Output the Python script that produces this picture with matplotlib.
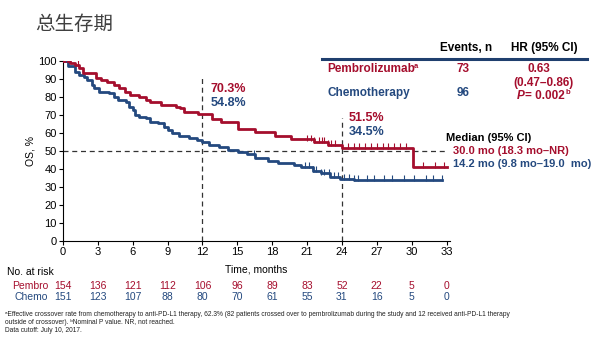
import matplotlib
matplotlib.use('Agg')

import numpy as np
import matplotlib.pyplot as plt
from matplotlib.transforms import blended_transform_factory

plt.rcParams['font.family'] = ['Liberation Sans', 'DejaVu Sans']

RED = '#A50E2D'
BLUE = '#24497F'

# Kaplan-Meier steps (months, OS %)
pembro_t = [0, 0.6, 1.0, 1.4, 1.7, 2.8, 3.3, 3.8, 4.4, 4.8, 5.3, 5.8, 6.5, 7.1, 7.5, 8.4,
            9.7, 10.1, 10.4, 11.6, 12.8, 13.6, 15.1, 16.5, 18.2, 19.6, 21.6, 22.8, 24.0, 30.1]
pembro_s = [100, 98.5, 97.6, 95.8, 93, 90.2, 89.2, 88.2, 86.5, 84.7, 82.8, 81, 80, 78, 77, 75.5,
            74.5, 73.6, 71.7, 70.3, 67.7, 66.2, 62.1, 60.6, 58.4, 56.4, 54.9, 53.2, 51.5, 41.2]
pembro_end = 33.0
pembro_cens = [1.3, 21.0, 21.3, 21.6, 22.0, 22.3, 22.5, 22.8, 23.1, 23.4, 24.5, 25.0, 25.5,
               26.0, 26.5, 27.0, 27.5, 28.0, 28.5, 29.0, 29.5, 31.0, 32.0, 32.8]

chemo_t = [0, 0.4, 1.0, 1.4, 1.8, 2.1, 2.5, 2.7, 3.1, 4.0, 4.4, 4.7, 5.4, 5.7, 6.0, 6.2, 6.5,
           7.1, 7.5, 8.2, 8.7, 9.0, 9.4, 10.0, 10.8, 11.5, 12.0, 12.6, 13.4, 14.2, 15.1, 15.8,
           16.5, 17.6, 18.5, 19.9, 20.5, 21.5, 22.2, 23.0, 23.8, 25.0]
chemo_s = [100, 97, 93.8, 92, 91, 89.2, 86.5, 84.7, 82.8, 82, 80, 78.2, 77.3, 74.5, 72.7, 70,
           69, 68, 66.2, 65.3, 63.5, 61.6, 59.8, 58, 57, 56, 54.8, 53.5, 52.3, 50.2, 49.5, 48,
           46, 44.4, 43.5, 42.2, 41, 39, 37.5, 35.7, 34.5, 33.8]
chemo_end = 32.6
chemo_cens = [0.3, 8.7, 16.4, 20.8, 21.2, 21.5, 21.8, 22.2, 22.5, 22.9, 23.3, 23.7, 24.2, 24.6,
              25.0, 25.4, 26.2, 26.8, 27.6, 28.3, 29.3, 30.2, 31.2, 31.8, 32.6]

xticks = [0, 3, 6, 9, 12, 15, 18, 21, 24, 27, 30, 33]
yticks = [0, 10, 20, 30, 40, 50, 60, 70, 80, 90, 100]
risk_pembro = [154, 136, 121, 112, 106, 96, 89, 83, 52, 22, 5, 0]
risk_chemo = [151, 123, 107, 88, 80, 70, 61, 55, 31, 16, 5, 0]

footnotes = [
    'ᵃEffective crossover rate from chemotherapy to anti-PD-L1 therapy, 62.3% (82 patients '
    'crossed over to pembrolizumab during the study and 12 received anti-PD-L1 therapy',
    'outside of crossover). ᵇNominal P value. NR, not reached.',
    'Data cutoff: July 10, 2017.',
]


def fx(x):
    return x / 600.0


def fy(y):
    return 1 - y / 337.0


def step_val(t, s, x):
    i = np.searchsorted(np.array(t), x, side='right') - 1
    return np.array(s)[i]


fig = plt.figure(figsize=(6, 3.37), dpi=100)
ax = fig.add_axes([fx(63), fy(241), fx(450) - fx(63), fy(60.7) - fy(241)])

# reference lines
ax.plot([0, 33], [50, 50], ls=(0, (4, 3)), color='#333333', lw=0.9, zorder=1)
ax.plot([12, 12], [0, 91], ls=(0, (4, 3)), color='#333333', lw=0.9, zorder=1)
ax.plot([24, 24], [0, 68.4], ls=(0, (4, 3)), color='#333333', lw=0.9, zorder=1)

# curves
for t, s, end, cens, col in [(chemo_t, chemo_s, chemo_end, chemo_cens, BLUE),
                             (pembro_t, pembro_s, pembro_end, pembro_cens, RED)]:
    ax.step(list(t) + [end], list(s) + [s[-1]], where='post', color=col, lw=2.0, zorder=3)
    cy = [step_val(t, s, c) for c in cens]
    ax.plot(cens, np.array(cy) + 1.0, ls='none', marker='|', ms=4, mew=0.8, color=col, zorder=4)

ax.set_xlim(0, 33.3)
ax.set_ylim(0, 100)
ax.set_xticks(xticks)
ax.set_yticks(yticks)
ax.tick_params(labelsize=8, length=3, width=0.8, pad=1.5)
ax.spines['top'].set_visible(False)
ax.spines['right'].set_visible(False)
ax.set_ylabel('OS, %', fontsize=7.5, labelpad=2)
ax.set_xlabel('Time, months', fontsize=7.5, labelpad=5)

# landmark percentages
ax.text(12.7, 84.3, '70.3%', color=RED, fontsize=9, fontweight='bold', ha='left', va='center')
ax.text(12.7, 76.5, '54.8%', color=BLUE, fontsize=9, fontweight='bold', ha='left', va='center')
ax.text(24.6, 68.2, '51.5%', color=RED, fontsize=9, fontweight='bold', ha='left', va='center')
ax.text(24.6, 60.6, '34.5%', color=BLUE, fontsize=9, fontweight='bold', ha='left', va='center')

# title
fig.text(fx(35), fy(25), '总生存期', family=['Noto Sans CJK SC'], fontsize=14,
         color='#404040', ha='left', va='center')

# HR table
fig.text(fx(466), fy(48), 'Events, n', fontsize=8.5, fontweight='bold', ha='center', va='center')
fig.text(fx(544), fy(48), 'HR (95% CI)', fontsize=8.5, fontweight='bold', ha='center', va='center')
fig.lines.append(plt.Line2D([fx(322), fx(587)], [fy(59), fy(59)], color='#1F3F6E', lw=2.2,
                            transform=fig.transFigure))
fig.text(fx(327), fy(69), 'Pembrolizumab', fontsize=8.5, fontweight='bold', color=RED,
         ha='left', va='center')
fig.text(fx(414), fy(66), 'a', fontsize=5.5, fontweight='bold', color=RED, ha='left', va='center')
fig.text(fx(327), fy(93), 'Chemotherapy', fontsize=8.5, fontweight='bold', color=BLUE,
         ha='left', va='center')
fig.text(fx(463), fy(69), '73', fontsize=8.5, fontweight='bold', color=RED, ha='center', va='center')
fig.text(fx(463), fy(93), '96', fontsize=8.5, fontweight='bold', color=BLUE, ha='center', va='center')
fig.text(fx(539), fy(69), '0.63', fontsize=8.5, fontweight='bold', color=RED, ha='center', va='center')
fig.text(fx(544), fy(83), '(0.47–0.86)', fontsize=8.5, fontweight='bold', color=RED,
         ha='center', va='center')
fig.text(fx(517), fy(96), 'P', fontsize=8.5, fontweight='bold', style='italic', color=RED,
         ha='left', va='center')
fig.text(fx(525), fy(96), '= 0.002', fontsize=8.5, fontweight='bold', color=RED, ha='left', va='center')
fig.text(fx(566), fy(92.5), 'b', fontsize=5.5, fontweight='bold', color=RED, ha='left', va='center')

# medians
fig.text(fx(446), fy(138), 'Median (95% CI)', fontsize=8, fontweight='bold', ha='left', va='center')
fig.text(fx(453), fy(151), '30.0 mo (18.3 mo–NR)', fontsize=8, fontweight='bold', color=RED,
         ha='left', va='center')
fig.text(fx(453), fy(164), '14.2 mo (9.8 mo–19.0  mo)', fontsize=8, fontweight='bold', color=BLUE,
         ha='left', va='center')

# number at risk
tr = blended_transform_factory(ax.transData, fig.transFigure)
fig.text(fx(7), fy(272), 'No. at risk', fontsize=7.5, ha='left', va='center')
fig.text(fx(48), fy(286), 'Pembro', fontsize=7.5, color=RED, ha='right', va='center')
fig.text(fx(48), fy(297), 'Chemo', fontsize=7.5, color=BLUE, ha='right', va='center')
for xt, rp, rc in zip(xticks, risk_pembro, risk_chemo):
    ax.text(xt, fy(286), str(rp), transform=tr, fontsize=7.5, color=RED, ha='center', va='center')
    ax.text(xt, fy(297), str(rc), transform=tr, fontsize=7.5, color=BLUE, ha='center', va='center')

# footnotes
for line, yy in zip(footnotes, [314, 322, 330]):
    fig.text(fx(5), fy(yy), line, fontsize=4.8, color='#222222', ha='left', va='center')

fig.savefig('out.png', dpi=100)
